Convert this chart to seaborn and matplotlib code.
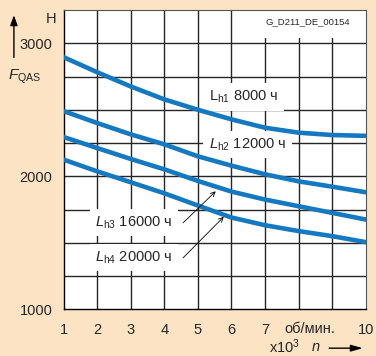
import numpy as np
import pandas as pd
import matplotlib
matplotlib.use("Agg")
import matplotlib.pyplot as plt
from matplotlib.patches import FancyArrowPatch
import seaborn as sns

# speed n (x10^3 rpm) and axial load F_QAS (N) for each rating life
n = [1, 2, 3, 4, 5, 6, 7, 8, 9, 10]
f_8000 = [2895, 2782, 2675, 2578, 2500, 2428, 2365, 2328, 2310, 2304]
f_12000 = [2490, 2400, 2315, 2240, 2150, 2080, 2015, 1962, 1922, 1880]
f_16000 = [2295, 2212, 2130, 2052, 1965, 1885, 1825, 1775, 1725, 1675]
f_20000 = [2125, 2037, 1955, 1872, 1780, 1690, 1632, 1588, 1550, 1505]
curve_names = ["8000", "12000", "16000", "20000"]

x_labels = ["1", "2", "3", "4", "5", "6", "7", "", "", "10"]
y_ticks = [1000, 2000, 3000]

bg = "#FCE3C4"
blue = "#1479C0"
grid_c = "#262626"

sns.set_style("white")
plt.rcParams["font.family"] = ["Liberation Sans", "DejaVu Sans"]
plt.rcParams["mathtext.fontset"] = "custom"
plt.rcParams["mathtext.rm"] = "Liberation Sans"
plt.rcParams["mathtext.it"] = "Liberation Sans:italic"

df = pd.DataFrame({
    "n": n * 4,
    "F": f_8000 + f_12000 + f_16000 + f_20000,
    "life": sum([[c] * len(n) for c in curve_names], []),
})

fig = plt.figure(figsize=(3.76, 3.56), dpi=100, facecolor=bg)
ax = fig.add_axes([0.1694, 0.1312, 0.803, 0.8407])
ax.set_facecolor("white")

sns.lineplot(data=df, x="n", y="F", hue="life", palette=[blue] * 4,
             linewidth=3.3, legend=False, ax=ax, zorder=3)

ax.set_xlim(1, 10)
ax.set_ylim(1000, 3250)

# grid
for gx in range(2, 10):
    ax.axvline(gx, color=grid_c, lw=1.0, zorder=1)
for gy in np.arange(1250, 3250, 250):
    ax.axhline(gy, color=grid_c, lw=1.0, zorder=1)

ax.set_xticks(n)
ax.set_xticklabels(x_labels)
ax.set_yticks(y_ticks)
ax.set_yticklabels([str(v) for v in y_ticks])
ax.tick_params(axis="both", direction="out", length=5, width=0.8,
               color="black", labelsize=10.5, pad=3)
ax.tick_params(axis="x", pad=5)
ax.set_xlabel("")
ax.set_ylabel("")
for s in ["left", "bottom"]:
    ax.spines[s].set_color("black")
    ax.spines[s].set_linewidth(1.0)
for s in ["top", "right"]:
    ax.spines[s].set_color("#555555")
    ax.spines[s].set_linewidth(0.8)

box = dict(facecolor="white", edgecolor="none", pad=4)
ax.text(5.33, 2597, r"L$_{\mathrm{h1}}$ 8000 ч", fontsize=10.5,
        ha="left", va="center", bbox=box, zorder=2.5)
ax.text(5.33, 2237, r"$L_{\mathrm{h2}}$ 12000 ч", fontsize=10.5,
        ha="left", va="center", bbox=box, zorder=2.5)
ax.text(4.25, 1652, r"$L_{\mathrm{h3}}$ 16000 ч", fontsize=10.5,
        ha="right", va="center", bbox=box, zorder=2.5)
ax.text(4.25, 1390, r"$L_{\mathrm{h4}}$ 20000 ч", fontsize=10.5,
        ha="right", va="center", bbox=box, zorder=2.5)

arrow = dict(arrowstyle="->", lw=0.6, color="black", shrinkA=0, shrinkB=0,
             mutation_scale=8)
ax.annotate("", xy=(5.53, 1887), xytext=(4.56, 1650), arrowprops=arrow, zorder=4)
ax.annotate("", xy=(5.77, 1695), xytext=(4.56, 1387), arrowprops=arrow, zorder=4)

ax.text(0.948, 0.96, "G_D211_DE_00154", transform=ax.transAxes, fontsize=6.8,
        ha="right", va="center", clip_on=True,
        bbox=dict(facecolor="white", edgecolor="none", pad=8), zorder=2.5)

ax.text(8.35, -0.066, "об/мин.", transform=ax.get_xaxis_transform(),
        fontsize=10.5, ha="center", va="center")

# axis captions
fig.text(0.149, 0.947, "H", fontsize=10.5, ha="right", va="center")
fig.text(0.02, 0.785, r"$F_{\mathrm{QAS}}$", fontsize=11, ha="left", va="center")
fig.patches.append(FancyArrowPatch(
    (0.037, 0.831), (0.037, 0.965), transform=fig.transFigure,
    arrowstyle="-|>,head_length=6,head_width=2.2", lw=1.0, color="black"))

fig.text(0.715, 0.026, r"x10$^3$", fontsize=10.5, ha="left", va="center")
fig.text(0.828, 0.026, r"$n$", fontsize=10.5, ha="left", va="center")
fig.patches.append(FancyArrowPatch(
    (0.868, 0.022), (0.972, 0.022), transform=fig.transFigure,
    arrowstyle="-|>,head_length=7,head_width=2", lw=1.0, color="black"))

fig.savefig("out.png", dpi=100, facecolor=bg)
